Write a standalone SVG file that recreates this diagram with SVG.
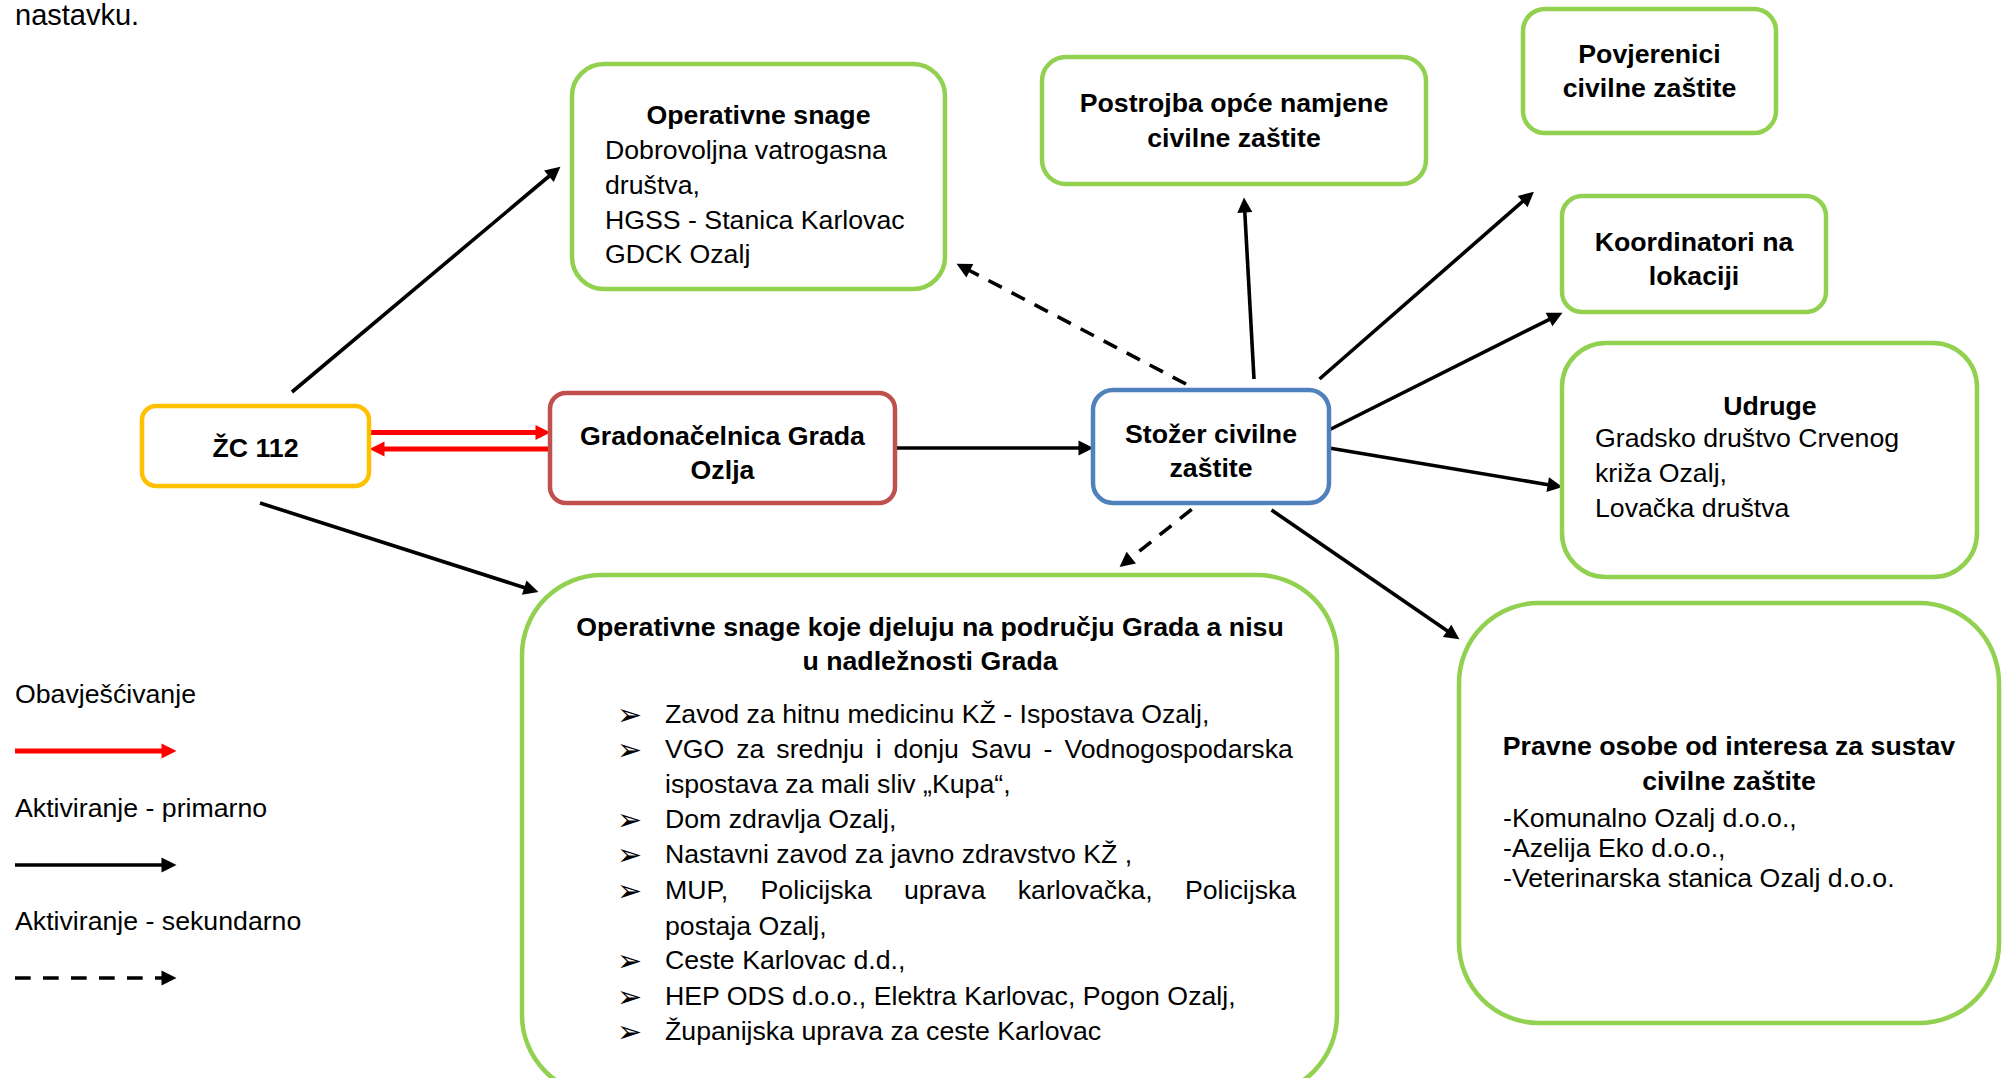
<svg xmlns="http://www.w3.org/2000/svg" width="2002" height="1078" viewBox="0 0 2002 1078">
<style>
text{font-family:"Liberation Sans",Arial,sans-serif;font-size:26.7px;fill:#000}
.b{font-weight:bold}
.c{text-anchor:middle}
.bul{font-family:"DejaVu Sans",sans-serif;font-size:30px}
.box{fill:#fff;stroke-width:4.5}
.g{stroke:#92D050}
.y{stroke:#FFC000}
.r{stroke:#C0504D}
.bl{stroke:#4F81BD}
.k{stroke:#000;stroke-width:3.6;fill:none}
.d{stroke-dasharray:15 11}
.red{stroke:#FF0000;stroke-width:5;fill:none}
</style>
<defs>
<marker id="ah" markerUnits="userSpaceOnUse" markerWidth="16" markerHeight="16" refX="0.5" refY="7.5" orient="auto" overflow="visible"><path d="M0,0 L15,7.5 L0,15 z" fill="#000"/></marker>
<marker id="ahr" markerUnits="userSpaceOnUse" markerWidth="16" markerHeight="16" refX="0.5" refY="7.5" orient="auto" overflow="visible"><path d="M0,0 L15,7.5 L0,15 z" fill="#FF0000"/></marker>
</defs>

<text x="15" y="25" style="font-size:29px">nastavku.</text>

<g id="connectors">
<line class="k" x1="292" y1="392" x2="549.3" y2="176" marker-end="url(#ah)"/>
<line class="k" x1="260" y1="503" x2="524.7" y2="587.7" marker-end="url(#ah)"/>
<line class="red" x1="369" y1="432.5" x2="536" y2="432.5" marker-end="url(#ahr)"/>
<line class="red" x1="550" y1="449" x2="384" y2="449" marker-end="url(#ahr)"/>
<line class="k" x1="895" y1="448" x2="1079" y2="448" marker-end="url(#ah)"/>
<line class="k d" x1="1186" y1="384" x2="969.4" y2="270.5" marker-end="url(#ah)"/>
<line class="k" x1="1254" y1="379" x2="1244.8" y2="212" marker-end="url(#ah)"/>
<line class="k" x1="1319.5" y1="379" x2="1523" y2="201.2" marker-end="url(#ah)"/>
<line class="k" x1="1329" y1="430" x2="1549.5" y2="319.3" marker-end="url(#ah)"/>
<line class="k" x1="1329" y1="448" x2="1548.2" y2="484.7" marker-end="url(#ah)"/>
<line class="k" x1="1271.5" y1="510" x2="1447.5" y2="631.1" marker-end="url(#ah)"/>
<line class="k d" x1="1191.7" y1="509.3" x2="1130.9" y2="558" marker-end="url(#ah)"/>
</g>

<g id="operativne-snage">
<rect class="box g" x="572" y="64" width="373" height="225" rx="32"/>
<text class="b c" x="758.5" y="124">Operativne snage</text>
<text x="605" y="159">Dobrovoljna vatrogasna</text>
<text x="605" y="194">društva,</text>
<text x="605" y="229">HGSS - Stanica Karlovac</text>
<text x="605" y="263">GDCK Ozalj</text>
</g>

<g id="postrojba">
<rect class="box g" x="1042" y="57" width="384" height="127" rx="24"/>
<text class="b c" x="1234" y="112">Postrojba opće namjene</text>
<text class="b c" x="1234" y="147">civilne zaštite</text>
</g>

<g id="povjerenici">
<rect class="box g" x="1523" y="9" width="253" height="124" rx="22"/>
<text class="b c" x="1649.5" y="63">Povjerenici</text>
<text class="b c" x="1649.5" y="97">civilne zaštite</text>
</g>

<g id="koordinatori">
<rect class="box g" x="1562" y="196" width="264" height="116" rx="20"/>
<text class="b c" x="1694" y="251">Koordinatori na</text>
<text class="b c" x="1694" y="285">lokaciji</text>
</g>

<g id="udruge">
<rect class="box g" x="1562" y="343" width="415" height="234" rx="44"/>
<text class="b c" x="1770" y="415">Udruge</text>
<text x="1595" y="447">Gradsko društvo Crvenog</text>
<text x="1595" y="482">križa Ozalj,</text>
<text x="1595" y="517">Lovačka društva</text>
</g>

<g id="zc112">
<rect class="box y" x="142" y="406" width="227" height="80" rx="14"/>
<text class="b c" x="255.5" y="457">ŽC 112</text>
</g>

<g id="gradonacelnica">
<rect class="box r" x="550" y="393" width="345" height="110" rx="16"/>
<text class="b c" x="722.5" y="445">Gradonačelnica Grada</text>
<text class="b c" x="722.5" y="479">Ozlja</text>
</g>

<g id="stozer">
<rect class="box bl" x="1093" y="390" width="236" height="113" rx="20"/>
<text class="b c" x="1211" y="443">Stožer civilne</text>
<text class="b c" x="1211" y="477">zaštite</text>
</g>

<g id="operativne-snage-izvan">
<rect class="box g" x="522" y="575" width="815" height="520" rx="80"/>
<text class="b c" x="930" y="636">Operativne snage koje djeluju na području Grada a nisu</text>
<text class="b c" x="930" y="670">u nadležnosti Grada</text>
<text class="bul" x="617" y="725">➢</text>
<text class="bul" x="617" y="760">➢</text>
<text class="bul" x="617" y="830">➢</text>
<text class="bul" x="617" y="865">➢</text>
<text class="bul" x="617" y="901">➢</text>
<text class="bul" x="617" y="971">➢</text>
<text class="bul" x="617" y="1007">➢</text>
<text class="bul" x="617" y="1042">➢</text>
<text x="665" y="723">Zavod za hitnu medicinu KŽ - Ispostava Ozalj,</text>
<text x="665" y="758" word-spacing="4.5">VGO za srednju i donju Savu - Vodnogospodarska</text>
<text x="665" y="793">ispostava za mali sliv „Kupa“,</text>
<text x="665" y="828">Dom zdravlja Ozalj,</text>
<text x="665" y="863">Nastavni zavod za javno zdravstvo KŽ ,</text>
<text x="665" y="899" word-spacing="24.8">MUP, Policijska uprava karlovačka, Policijska</text>
<text x="665" y="935">postaja Ozalj,</text>
<text x="665" y="969">Ceste Karlovac d.d.,</text>
<text x="665" y="1005">HEP ODS d.o.o., Elektra Karlovac, Pogon Ozalj,</text>
<text x="665" y="1040">Županijska uprava za ceste Karlovac</text>
</g>

<g id="pravne-osobe">
<rect class="box g" x="1459" y="603" width="540" height="420" rx="80"/>
<text class="b c" x="1729" y="755">Pravne osobe od interesa za sustav</text>
<text class="b c" x="1729" y="790">civilne zaštite</text>
<text x="1503" y="827">-Komunalno Ozalj d.o.o.,</text>
<text x="1503" y="857">-Azelija Eko d.o.o.,</text>
<text x="1503" y="887">-Veterinarska stanica Ozalj d.o.o.</text>
</g>

<g id="legend">
<text x="15" y="703">Obavješćivanje</text>
<line class="red" x1="15" y1="751" x2="162" y2="751" marker-end="url(#ahr)"/>
<text x="15" y="817">Aktiviranje - primarno</text>
<line class="k" x1="15" y1="865" x2="162" y2="865" stroke-width="4.5" marker-end="url(#ah)"/>
<text x="15" y="930">Aktiviranje - sekundarno</text>
<line class="k" x1="15" y1="978" x2="162" y2="978" stroke-width="4.5" stroke-dasharray="15.7 12.3" marker-end="url(#ah)"/>
</g>
</svg>
